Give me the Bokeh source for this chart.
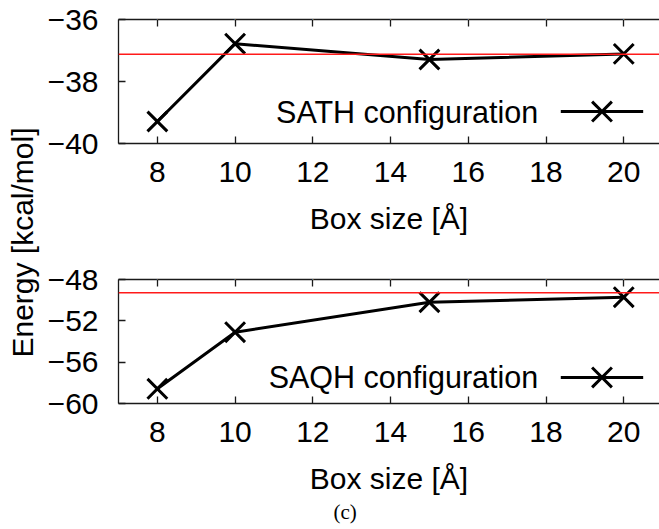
from bokeh.plotting import figure
from bokeh.models import LinearAxis, FixedTicker, Span, Range1d, Title
from bokeh.layouts import row, column
from bokeh.embed import file_html
from bokeh.resources import INLINE
from bokeh.core.properties import value
import math

# ---- data ----
box_sizes = [8, 10, 15, 20]
sath_energy = [-39.29, -36.78, -37.29, -37.11]
saqh_energy = [-58.58, -53.10, -50.20, -49.71]
sath_reference = -37.12
saqh_reference = -49.28

x_ticks = [8, 10, 12, 14, 16, 18, 20]
sath_y_ticks = [-40, -38, -36]
sath_y_labels = ["\u221240", "\u221238", "\u221236"]
saqh_y_ticks = [-60, -56, -52, -48]
saqh_y_labels = ["\u221260", "\u221256", "\u221252", "\u221248"]

x_label = "Box size [\u00c5]"
y_label = "Energy [kcal/mol]"
caption = "(c)"

FONT = "Liberation Sans"
FS = "30px"
AXC = "#1a1a1a"
MARK = 28


def style_axis(ax, ticks, labels=None):
    ax.ticker = FixedTicker(ticks=ticks)
    if labels is not None:
        ax.major_label_overrides = {t: l for t, l in zip(ticks, labels)}
    ax.major_label_text_font = FONT
    ax.major_label_text_font_size = FS
    ax.major_label_text_color = "black"
    ax.axis_line_color = AXC
    ax.axis_line_width = 1.3
    ax.major_tick_line_color = AXC
    ax.major_tick_line_width = 1.3
    ax.major_tick_in = 7
    ax.major_tick_out = 0
    ax.minor_tick_line_color = None
    ax.axis_label_text_font = FONT
    ax.axis_label_text_font_size = FS
    ax.axis_label_text_font_style = "normal"
    ax.axis_label_text_color = "black"


def make_panel(height, b_top, b_bottom, yr, yticks, ylabels, energy, ref,
               legend_text, legend_y):
    p = figure(width=615, height=height,
               x_range=Range1d(7, 20.92), y_range=Range1d(*yr),
               output_backend="svg", toolbar_location=None,
               min_border_left=71, min_border_right=0,
               min_border_top=b_top, min_border_bottom=b_bottom)
    p.grid.visible = False
    p.outline_line_color = None
    p.background_fill_color = "white"
    p.border_fill_color = "white"

    style_axis(p.xaxis[0], x_ticks)
    p.xaxis[0].axis_label = x_label
    p.xaxis[0].major_label_standoff = 18
    p.xaxis[0].axis_label_standoff = 17

    style_axis(p.yaxis[0], yticks, ylabels)
    p.yaxis[0].major_label_standoff = 20

    top = LinearAxis()
    style_axis(top, x_ticks)
    top.major_label_text_font_size = "1px"
    top.major_label_text_color = "white"
    top.major_label_standoff = 0
    p.add_layout(top, "above")

    p.add_layout(Span(location=ref, dimension="width",
                      line_color="#ff1a1a", line_width=1.6))

    p.line(box_sizes, energy, line_color="black", line_width=3)
    p.scatter(box_sizes, energy, marker="x", size=MARK,
              line_color="black", line_width=3)

    # legend (text on left, sample on right, gnuplot style)
    p.text(x=[17.8], y=[legend_y], text=[legend_text],
           text_font=value(FONT), text_font_size="30.5px", text_color="black",
           text_align="right", text_baseline="middle")
    p.line([18.38, 20.5], [legend_y, legend_y], line_color="black",
           line_width=3)
    p.scatter([19.44], [legend_y], marker="x", size=MARK,
              line_color="black", line_width=3)
    return p


p_top = make_panel(260, 19, 117, (-40, -36), sath_y_ticks, sath_y_labels,
                   sath_energy, sath_reference, "SATH configuration", -38.97)
p_bot = make_panel(269, 19, 126, (-60, -48), saqh_y_ticks, saqh_y_labels,
                   saqh_energy, saqh_reference, "SAQH configuration", -57.48)

p_bot.add_layout(Title(text=caption, align="left", offset=215,
                       text_font="Liberation Serif", text_font_size="21px",
                       text_font_style="normal", text_color="black",
                       standoff=0), "below")

# shared y-axis label
lab = figure(width=44, height=529, x_range=Range1d(0, 44),
             y_range=Range1d(0, 529), output_backend="svg",
             toolbar_location=None, min_border=0)
lab.axis.visible = False
lab.grid.visible = False
lab.outline_line_color = None
lab.text(x=[22], y=[287], text=[y_label], angle=math.pi / 2,
         text_font=value(FONT), text_font_size=FS, text_color="black",
         text_align="center", text_baseline="alphabetic")

layout = row(lab, column(p_top, p_bot))

open("out.html", "w").write(file_html(layout, INLINE))
